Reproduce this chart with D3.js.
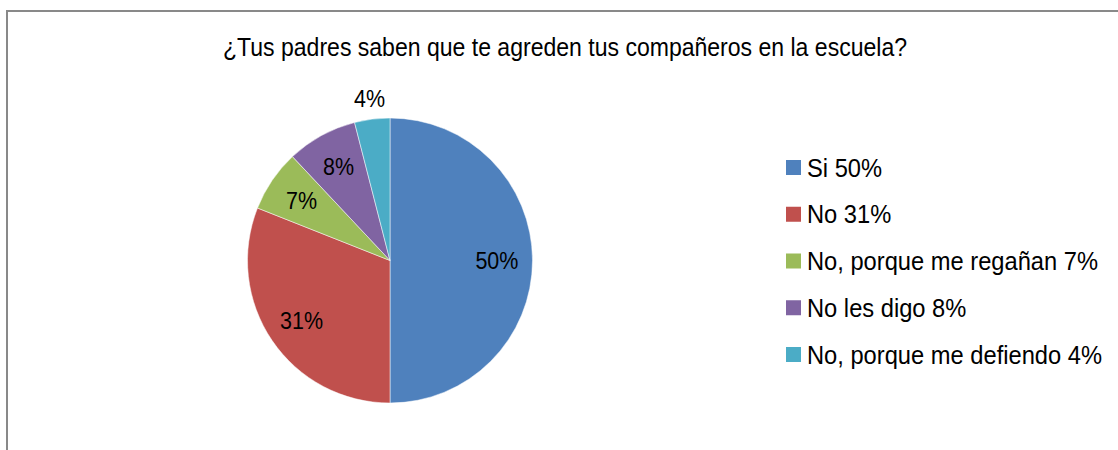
<!DOCTYPE html>
<html>
<head>
<meta charset="utf-8">
<script src="https://cdn.jsdelivr.net/npm/d3@7"></script>
<style>
  body { margin: 0; background: #fff; }
  text { font-family: "Liberation Sans Narrow", "Arial Narrow", "Liberation Sans", Arial, sans-serif; fill: #000; }
</style>
</head>
<body>
<div id="chart"></div>
<script>
// data
var categories = ["Si", "No", "No, porque me regañan", "No les digo", "No, porque me defiendo"];
var values = [50, 31, 7, 8, 4];
var colors = ["#4F81BD", "#C0504D", "#9BBB59", "#8064A2", "#4BACC6"];
var title = "¿Tus padres saben que te agreden tus compañeros en la escuela?";

var width = 1118, height = 450;
var cx = 390, cy = 260.5, r = 142.5;

var svg = d3.select("#chart").append("svg")
    .attr("width", width)
    .attr("height", height);

// chart frame (cut off on the right and bottom like the original)
svg.append("rect")
    .attr("x", 7).attr("y", 11)
    .attr("width", 1200).attr("height", 600)
    .attr("fill", "#fff")
    .attr("stroke", "#898989")
    .attr("stroke-width", 2);

var titleText = svg.append("text")
    .attr("x", 565).attr("y", 56)
    .attr("text-anchor", "middle")
    .attr("font-size", 26)
    .text(title);

var data = categories.map(function(c, i){ return {name: c, value: values[i], color: colors[i]}; });

var pie = d3.pie().sort(null).value(function(d){ return d.value; });
var arcs = pie(data);

var arc = d3.arc().innerRadius(0).outerRadius(r);
var labelArc = d3.arc().innerRadius(r * 0.75).outerRadius(r * 0.75);
var outsideArc = d3.arc().innerRadius(r * 1.15).outerRadius(r * 1.15);

var g = svg.append("g").attr("transform", "translate(" + cx + "," + cy + ")");

g.selectAll("path")
    .data(arcs)
    .enter()
    .append("path")
    .attr("d", arc)
    .attr("fill", function(d){ return d.data.color; })
    .attr("stroke", "#fff")
    .attr("stroke-width", 0.5);

var pieLabels = g.selectAll("text.lbl")
    .data(arcs)
    .enter()
    .append("text")
    .attr("class", "lbl")
    .attr("text-anchor", "middle")
    .attr("dy", "0.36em")
    .attr("font-size", 24)
    .attr("transform", function(d){
        // small slice label sits outside the pie
        var p = d.data.value < 5 ? outsideArc.centroid(d) : labelArc.centroid(d);
        return "translate(" + p + ")";
    })
    .text(function(d){ return d.data.value + "%"; });

// legend
var legend = svg.append("g").attr("transform", "translate(786,0)");
var rowY = d3.scalePoint().domain(categories).range([167.5, 354.5]);

var rows = legend.selectAll("g")
    .data(data)
    .enter()
    .append("g")
    .attr("transform", function(d){ return "translate(0," + rowY(d.name) + ")"; });

rows.append("rect")
    .attr("x", 0).attr("y", -7.5)
    .attr("width", 15).attr("height", 15)
    .attr("fill", function(d){ return d.color; });

var legendTexts = rows.append("text")
    .attr("x", 21)
    .attr("dy", "0.36em")
    .attr("font-size", 25)
    .text(function(d){ return d.name + " " + d.value + "%"; });

// the original font is a narrow one: squeeze each group to its measured width
function squeeze(sel, k){
    sel.each(function(){
        d3.select(this)
            .attr("textLength", this.getComputedTextLength() * k)
            .attr("lengthAdjust", "spacingAndGlyphs");
    });
}
var kTitle = 684 / titleText.node().getComputedTextLength();
var kLegend = 295 / d3.max(legendTexts.nodes(), function(n){ return n.getComputedTextLength(); });
var kLabel = 43 / pieLabels.nodes()[0].getComputedTextLength();
squeeze(titleText, kTitle);
squeeze(legendTexts, kLegend);
squeeze(pieLabels, kLabel);
</script>
</body>
</html>
